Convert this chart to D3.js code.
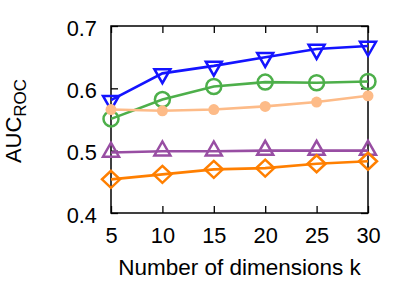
<!DOCTYPE html>
<html>
<head>
<meta charset="utf-8">
<script src="https://cdn.jsdelivr.net/npm/d3@7"></script>
<style>
  body { margin: 0; background: #fff; }
  text { font-family: "Liberation Sans", Arial, sans-serif; fill: #000; }
</style>
</head>
<body>
<div id="chart"></div>
<script>
// data
var dims = [5, 10, 15, 20, 25, 30];
var blueVals   = [0.581, 0.624, 0.636, 0.650, 0.663, 0.668];
var greenVals  = [0.551, 0.582, 0.603, 0.610, 0.609, 0.611];
var purpleVals = [0.497, 0.499, 0.499, 0.500, 0.500, 0.500];
var peachVals  = [0.566, 0.564, 0.566, 0.571, 0.578, 0.588];
var orangeVals = [0.454, 0.462, 0.470, 0.472, 0.479, 0.483];
var yTicks = [0.4, 0.5, 0.6, 0.7];
var xTicks = [5, 10, 15, 20, 25, 30];

var width = 409, height = 286;
// plot frame (note: "top" is a reserved window property, so prefixed names)
var plotL = 111, plotR = 368, plotT = 26, plotB = 213;

var svg = d3.select("#chart").append("svg")
    .attr("width", width)
    .attr("height", height);

var x = d3.scaleLinear().domain([5, 30]).range([plotL, plotR]);
var y = d3.scaleLinear().domain([0.4, 0.7]).range([plotB, plotT]);

// axes, ticks point inward (gnuplot style)
var xAxis = svg.append("g")
    .attr("transform", "translate(0," + plotB + ")")
    .call(d3.axisBottom(x).tickValues(xTicks).tickSize(-7).tickSizeOuter(0).tickPadding(14.5));
var yAxis = svg.append("g")
    .attr("transform", "translate(" + plotL + ",0)")
    .call(d3.axisLeft(y).tickValues(yTicks).tickSize(-7).tickSizeOuter(0).tickPadding(14)
        .tickFormat(d3.format(".1f")));
svg.append("g")
    .attr("transform", "translate(0," + plotT + ")")
    .call(d3.axisTop(x).tickValues(xTicks).tickSize(-7).tickSizeOuter(0).tickFormat(""));
svg.append("g")
    .attr("transform", "translate(" + plotR + ",0)")
    .call(d3.axisRight(y).tickValues(yTicks).tickSize(-7).tickSizeOuter(0).tickFormat(""));

svg.selectAll(".domain").remove();
svg.selectAll(".tick line").attr("stroke", "#000").attr("stroke-width", 1.3);
svg.selectAll(".tick text").attr("font-size", 21.8).attr("font-family", null);
yAxis.selectAll(".tick text").attr("dy", "0.42em");

svg.append("rect")
    .attr("x", plotL).attr("y", plotT)
    .attr("width", plotR - plotL).attr("height", plotB - plotT)
    .attr("fill", "none").attr("stroke", "#000").attr("stroke-width", 1.5);

// axis titles
svg.append("text")
    .attr("x", (plotL + plotR) / 2)
    .attr("y", 275)
    .attr("text-anchor", "middle")
    .attr("font-size", 22.5)
    .text("Number of dimensions k");

var ylab = svg.append("text")
    .attr("transform", "translate(21,121) rotate(-90)")
    .attr("text-anchor", "middle")
    .attr("font-size", 22);
ylab.append("tspan").text("AUC");
ylab.append("tspan").attr("font-size", 17).attr("dy", 5).text("ROC");

// markers
function triDown(w, h) {
    return "M" + (-w / 2) + "," + (-0.3 * h) + "L" + (w / 2) + "," + (-0.3 * h) + "L0," + (0.7 * h) + "Z";
}
function triUp(w, h) {
    return "M" + (-w / 2) + "," + (0.3 * h) + "L" + (w / 2) + "," + (0.3 * h) + "L0," + (-0.7 * h) + "Z";
}
function diamond(w, h) {
    return "M0," + (-h) + "L" + w + ",0L0," + h + "L" + (-w) + ",0Z";
}

var series = [
    { vals: purpleVals, color: "#984ea3", marker: "triUp" },
    { vals: blueVals,   color: "#1414ff", marker: "triDown" },
    { vals: greenVals,  color: "#4daf4a", marker: "circle" },
    { vals: peachVals,  color: "#fdbb88", marker: "dot" },
    { vals: orangeVals, color: "#ff7f00", marker: "diamond" }
];

var line = d3.line()
    .x(function(d, i) { return x(dims[i]); })
    .y(function(d) { return y(d); });

series.forEach(function(s) {
    var g = svg.append("g");
    g.append("path")
        .attr("d", line(s.vals))
        .attr("fill", "none")
        .attr("stroke", s.color)
        .attr("stroke-width", 2.6);

    var pts = g.selectAll(".pt")
        .data(s.vals)
        .enter();

    if (s.marker == "circle") {
        pts.append("circle")
            .attr("cx", function(d, i) { return x(dims[i]); })
            .attr("cy", function(d) { return y(d); })
            .attr("r", 7.5)
            .attr("fill", "none")
            .attr("stroke", s.color)
            .attr("stroke-width", 2.5);
    } else if (s.marker == "dot") {
        pts.append("circle")
            .attr("cx", function(d, i) { return x(dims[i]); })
            .attr("cy", function(d) { return y(d); })
            .attr("r", 5.5)
            .attr("fill", s.color);
    } else {
        var shape = s.marker == "triUp" ? triUp(16, 14) : s.marker == "triDown" ? triDown(16, 14) : diamond(9, 8.5);
        pts.append("path")
            .attr("transform", function(d, i) { return "translate(" + x(dims[i]) + "," + y(d) + ")"; })
            .attr("d", shape)
            .attr("fill", "none")
            .attr("stroke", s.color)
            .attr("stroke-width", 2.5)
            .attr("stroke-linejoin", "miter");
    }
});
</script>
</body>
</html>
